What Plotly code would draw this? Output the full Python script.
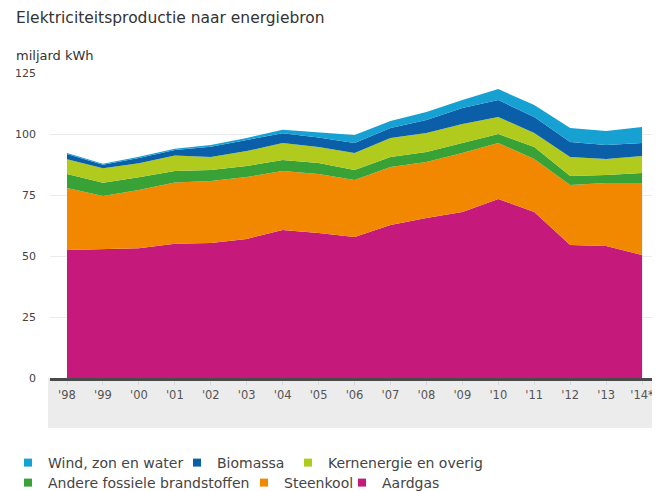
import plotly.graph_objects as go

jaren = ["'98", "'99", "'00", "'01", "'02", "'03", "'04", "'05", "'06",
         "'07", "'08", "'09", "'10", "'11", "'12", "'13", "'14*"]

# miljard kWh
aardgas = [52.5, 52.9, 53.2, 55.0, 55.3, 57.0, 60.7, 59.4, 57.8,
           62.7, 65.6, 68.0, 73.4, 68.0, 54.5, 54.1, 50.4]
steenkool = [25.4, 21.7, 23.8, 25.1, 25.4, 25.4, 24.1, 24.2, 23.3,
             23.8, 22.9, 24.2, 22.9, 21.8, 24.6, 25.8, 29.5]
andere_fossiel = [5.7, 5.4, 5.3, 4.7, 4.5, 4.5, 4.5, 4.5, 4.1,
                  4.1, 4.1, 4.1, 3.7, 4.9, 3.7, 3.3, 4.1]
kernenergie = [6.1, 6.0, 5.7, 6.4, 5.4, 6.1, 7.0, 6.6, 7.0,
               7.8, 7.8, 7.8, 7.0, 5.7, 7.8, 6.6, 7.0]
biomassa = [2.1, 1.4, 2.2, 2.2, 4.2, 4.4, 4.0, 3.9, 4.1,
            4.1, 5.3, 6.6, 6.9, 6.6, 6.1, 5.7, 5.3]
wind_zon_water = [0.4, 0.4, 0.5, 0.6, 0.7, 1.0, 1.4, 2.2, 3.3,
                  2.8, 3.3, 3.2, 4.5, 4.9, 5.8, 5.7, 6.6]

series = [
    ("Aardgas", aardgas, "#c5197c"),
    ("Steenkool", steenkool, "#f18800"),
    ("Andere fossiele brandstoffen", andere_fossiel, "#38a236"),
    ("Kernenergie en overig", kernenergie, "#b1ca1e"),
    ("Biomassa", biomassa, "#0b5fa9"),
    ("Wind, zon en water", wind_zon_water, "#17a1d3"),
]
kleuren = {n: k for n, _, k in series}

# legenda-volgorde zoals in het origineel (twee rijen van drie)
legenda_volgorde = ["Wind, zon en water", "Biomassa", "Kernenergie en overig",
                    "Andere fossiele brandstoffen", "Steenkool", "Aardgas"]
# plaats van elk legendablokje (px vanaf links/boven in het origineel)
legenda_pos = [(23, 463), (197, 463), (308, 463),
               (23, 483), (264, 483), (362, 483)]

W, H = 652, 483   # body-marge van 8 px in de pagina
SH = 8

x = list(range(len(jaren)))
font = "DejaVu Sans, sans-serif"

fig = go.Figure()
for naam, waarden, kleur in series:
    fig.add_trace(go.Scatter(
        x=x, y=waarden, name=naam, mode="lines",
        stackgroup="een", line=dict(width=0, color=kleur),
        fillcolor=kleur, showlegend=False, hoverinfo="x+y+name",
    ))

legends = {}
for i, (naam, (px, py)) in enumerate(zip(legenda_volgorde, legenda_pos)):
    key = "legend" if i == 0 else f"legend{i + 1}"
    fig.add_trace(go.Scatter(
        x=[None], y=[None], mode="markers", name=naam,
        marker=dict(symbol="square", size=8, color=kleuren[naam]),
        legend=key,
    ))
    legends[key] = dict(
        xref="container", yref="container",
        x=(px - SH - 20) / W, y=1 - (py - SH) / H,
        xanchor="left", yanchor="middle", orientation="h",
        font=dict(size=14, color="#444"), itemwidth=30,
        bgcolor="rgba(0,0,0,0)", borderwidth=0,
    )

# grijze band onder de x-as
fig.add_shape(type="rect", xref="paper", yref="paper",
              x0=-0.0033, x1=1.0, y0=-0.164, y1=0,
              fillcolor="#ececec", line=dict(width=0), layer="below")

fig.update_layout(
    width=W, height=H,
    margin=dict(l=42, r=5, t=65, b=113),
    paper_bgcolor="white", plot_bgcolor="white",
    font=dict(family=font, size=11, color="#444"),
    showlegend=True,
    annotations=[
        dict(text="Elektriciteitsproductie naar energiebron", xref="paper",
             yref="paper", x=-0.06, y=1.180, xanchor="left",
             yanchor="middle", showarrow=False,
             font=dict(size=15.5, color="#333")),
        dict(text="miljard kWh", xref="paper", yref="paper",
             x=-0.06, y=1.059, xanchor="left", yanchor="middle",
             showarrow=False, font=dict(size=13, color="#333")),
    ],
    **legends,
)

fig.update_xaxes(
    range=[-0.473, 16.36], tickmode="array", tickvals=x, ticktext=jaren,
    showgrid=False, zeroline=False, showline=True, linecolor="#4a4a4a",
    linewidth=2.5, ticks="outside", ticklen=4, tickcolor="#d8d8d8",
    tickfont=dict(size=11.5, color="#555"), ticklabelstandoff=0,
)
fig.update_yaxes(
    range=[0, 125], tickvals=[0, 25, 50, 75, 100, 125],
    showgrid=True, gridcolor="#ebebeb", zeroline=False, showline=False,
    tickfont=dict(size=11, color="#444"), ticks="", ticklabelstandoff=13,
)

fig.write_html("out.html")
